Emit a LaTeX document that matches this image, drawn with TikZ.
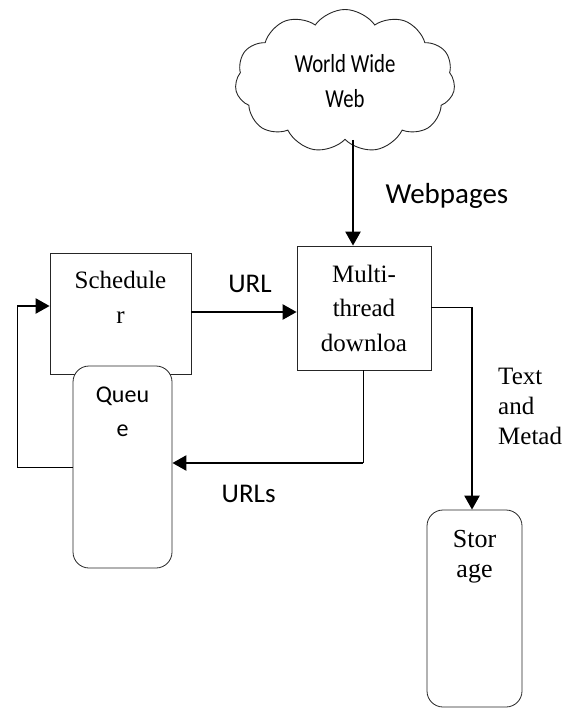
\documentclass[tikz,border=0pt]{standalone}
\usepackage{fontspec}
\setmainfont{Liberation Serif}
\newfontfamily\calfont{Carlito}
\newfontfamily\cloudfont[FakeStretch=0.8]{Carlito}
\usepackage{tikz}
\usetikzlibrary{arrows.meta,positioning,calc,shapes.symbols}

\begin{document}
\begin{tikzpicture}[
 x=1pt, y=-1pt,
 >={Triangle[length=14pt,width=15pt]},
 blk/.style={rectangle, draw=black!85, line width=0.8pt, fill=white, inner sep=0pt},
 rblk/.style={blk, rounded corners=16pt},
 txt/.style={anchor=north, align=center, inner sep=0pt, yshift=#1},
 serif/.style={font=\fontsize{25pt}{35pt}\selectfont},
 sans/.style={font=\calfont\fontsize{27pt}{34pt}\selectfont},
 arr/.style={->, line width=2.4pt},
 thin/.style={line width=1pt},
]
\useasboundingbox (0,0) rectangle (569,708);
\node[cloud, draw=black!85, line width=0.9pt, cloud puffs=11, cloud puff arc=110,
 cloud ignores aspect, minimum width=220pt, minimum height=143pt, inner sep=0pt,
 align=center, font=\cloudfont\fontsize{26pt}{35pt}\selectfont] (www) at (345,81)
 {World Wide\\Web};
\node[blk, minimum width=141pt, minimum height=121pt,
 label={[txt=-18pt, serif]north:{Schedule\\r}}] (sched) at (120.5,313.5) {};
\node[rblk, minimum width=99pt, minimum height=202pt,
 label={[txt=-21pt, sans, font=\calfont\fontsize{24pt}{34pt}\selectfont]north:{Queu\\e}}] (queue) at (122.5,467) {};
\node[blk, minimum width=134pt, minimum height=124pt,
 label={[txt=-19pt, serif, font=\fontsize{25pt}{34.5pt}\selectfont]north:{Multi-\\thread\\downloa}}] (multi) at (364,308) {};
\node[rblk, minimum width=95pt, minimum height=197pt,
 label={[txt=-20pt, serif, font=\fontsize{26pt}{30pt}\selectfont]north:{Stor\\age}}] (store) at (474.5,608.5) {};

% connectors
\draw[arr] ([xshift=-11pt]multi.north |- www.south) -- node[sans, font=\calfont\fontsize{29pt}{34pt}\selectfont, anchor=base west, pos=0.6, xshift=28pt]{Webpages} ([xshift=-11pt]multi.north);
\draw[arr] (sched.east |- 0,312) -- node[sans, anchor=base, xshift=6pt, yshift=20pt]{URL} (multi.west |- 0,312);
\coordinate (fbk) at (17,306);
\draw[thin] (queue.west) -| (fbk);
\draw[arr] (fbk) -- (fbk -| sched.west);
\coordinate (ubend) at (363,463);
\draw[thin] (multi.south -| ubend) -- (ubend);
\draw[arr] (ubend) -- (ubend -| queue.east) node[sans, anchor=base, pos=0.6, yshift=-39pt]{URLs};
\coordinate (sbend) at (472,307);
\draw[thin] (multi.east |- sbend) -- (sbend);
\draw[arr] (sbend) -- (sbend |- store.north);
\node[serif, font=\fontsize{25pt}{30pt}\selectfont, align=left, anchor=north west, inner sep=0pt] (meta) at (498,368) {Text\\and\\Metad};
\end{tikzpicture}
\end{document}
